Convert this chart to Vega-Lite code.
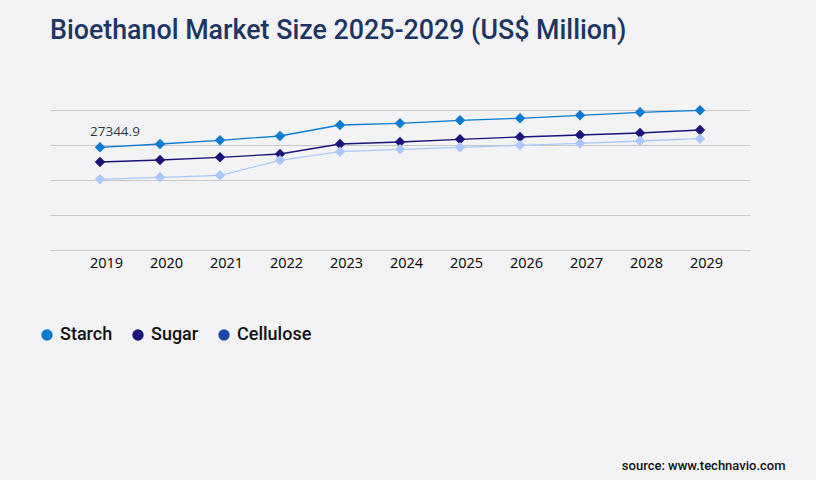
{
  "$schema": "https://vega.github.io/schema/vega-lite/v6.json",
  "width": 700,
  "height": 140,
  "autosize": "none",
  "padding": {"left": 50, "top": 110, "right": 66, "bottom": 230},
  "background": "#f3f3f5",
  "config": {"view": {"stroke": null}, "font": "Roboto"},
  "title": {
    "text": "Bioethanol Market Size 2025-2029 (US$ Million)",
    "anchor": "start",
    "frame": "group",
    "font": "Roboto",
    "fontSize": 26.8,
    "fontWeight": 500,
    "color": "#1c3563",
    "offset": 60
  },
  "data": {
    "values": [
      {"year": "2019", "segment": "Starch", "value": 27344.9},
      {"year": "2020", "segment": "Starch", "value": 28228},
      {"year": "2021", "segment": "Starch", "value": 29213},
      {"year": "2022", "segment": "Starch", "value": 30358},
      {"year": "2023", "segment": "Starch", "value": 33288},
      {"year": "2024", "segment": "Starch", "value": 33740},
      {"year": "2025", "segment": "Starch", "value": 34539},
      {"year": "2026", "segment": "Starch", "value": 35072},
      {"year": "2027", "segment": "Starch", "value": 35871},
      {"year": "2028", "segment": "Starch", "value": 36670},
      {"year": "2029", "segment": "Starch", "value": 37202},
      {"year": "2019", "segment": "Sugar", "value": 23434},
      {"year": "2020", "segment": "Sugar", "value": 23967},
      {"year": "2021", "segment": "Sugar", "value": 24686},
      {"year": "2022", "segment": "Sugar", "value": 25565},
      {"year": "2023", "segment": "Sugar", "value": 28228},
      {"year": "2024", "segment": "Sugar", "value": 28760},
      {"year": "2025", "segment": "Sugar", "value": 29479},
      {"year": "2026", "segment": "Sugar", "value": 30092},
      {"year": "2027", "segment": "Sugar", "value": 30625},
      {"year": "2028", "segment": "Sugar", "value": 31157},
      {"year": "2029", "segment": "Sugar", "value": 31956},
      {"year": "2019", "segment": "Cellulose", "value": 18827},
      {"year": "2020", "segment": "Cellulose", "value": 19360},
      {"year": "2021", "segment": "Cellulose", "value": 19893},
      {"year": "2022", "segment": "Cellulose", "value": 23887},
      {"year": "2023", "segment": "Cellulose", "value": 26177},
      {"year": "2024", "segment": "Cellulose", "value": 26817},
      {"year": "2025", "segment": "Cellulose", "value": 27349},
      {"year": "2026", "segment": "Cellulose", "value": 27882},
      {"year": "2027", "segment": "Cellulose", "value": 28414},
      {"year": "2028", "segment": "Cellulose", "value": 29027},
      {"year": "2029", "segment": "Cellulose", "value": 29639}
    ]
  },
  "encoding": {
    "x": {
      "field": "year",
      "type": "ordinal",
      "scale": {"type": "point", "padding": 0.8333},
      "axis": {
        "labelAngle": 0,
        "domain": false,
        "ticks": false,
        "grid": false,
        "labelFont": "Open Sans",
        "labelFontSize": 14.5,
        "labelColor": "#000000",
        "labelPadding": 6,
        "labelAlign": "center",
        "labelOffset": 6,
        "title": "source: www.technavio.com",
        "titleFont": "Roboto",
        "titleFontSize": 13,
        "titleFontWeight": 500,
        "titleColor": "#111111",
        "titleAnchor": "end",
        "titleAlign": "right",
        "titleX": 735,
        "titleY": 209
      }
    },
    "y": {
      "field": "value",
      "type": "quantitative",
      "scale": {"domain": [0, 37280], "nice": false, "zero": true},
      "axis": {
        "values": [0, 9320, 18640, 27960, 37280],
        "labels": false,
        "ticks": false,
        "domain": false,
        "title": null,
        "grid": true,
        "gridColor": "#c8c8c8",
        "gridWidth": 1
      }
    }
  },
  "layer": [
    {
      "layer": [
        {
          "mark": {"type": "line", "strokeWidth": 1.3},
          "encoding": {
            "color": {
              "field": "segment",
              "type": "nominal",
              "scale": {"domain": ["Starch", "Sugar", "Cellulose"], "range": ["#0a7bd2", "#1b1479", "#aac8fb"]},
              "legend": null
            }
          }
        },
        {
          "mark": {"type": "point", "shape": "diamond", "filled": true, "opacity": 1, "size": 110},
          "encoding": {
            "color": {"field": "segment", "type": "nominal", "legend": null}
          }
        },
        {
          "transform": [{"filter": "datum.segment === 'Starch' && datum.year === '2019'"}],
          "mark": {"type": "text", "font": "Open Sans", "fontSize": 13.5, "color": "#333333", "align": "left", "dx": -10, "dy": -15},
          "encoding": {
            "text": {"field": "value", "type": "quantitative", "format": ".1f"}
          }
        }
      ]
    },
    {
      "mark": {"type": "point", "shape": "circle", "filled": true, "opacity": 0, "size": 1},
      "encoding": {
        "color": {
          "field": "segment",
          "type": "nominal",
          "scale": {"domain": ["Starch", "Sugar", "Cellulose"], "range": ["#0a7bd2", "#1b1479", "#1c47aa"]},
          "legend": {
            "title": null,
            "orient": "none",
            "direction": "horizontal",
            "legendX": -12,
            "legendY": 216,
            "symbolType": "circle",
            "symbolSize": 130,
            "symbolOpacity": 1,
            "symbolStrokeWidth": 0,
            "labelFont": "Roboto",
            "labelFontSize": 18,
            "labelFontWeight": 500,
            "labelColor": "#111111",
            "labelOffset": 4,
            "columnPadding": 16
          }
        }
      }
    }
  ],
  "resolve": {"scale": {"color": "independent"}}
}
